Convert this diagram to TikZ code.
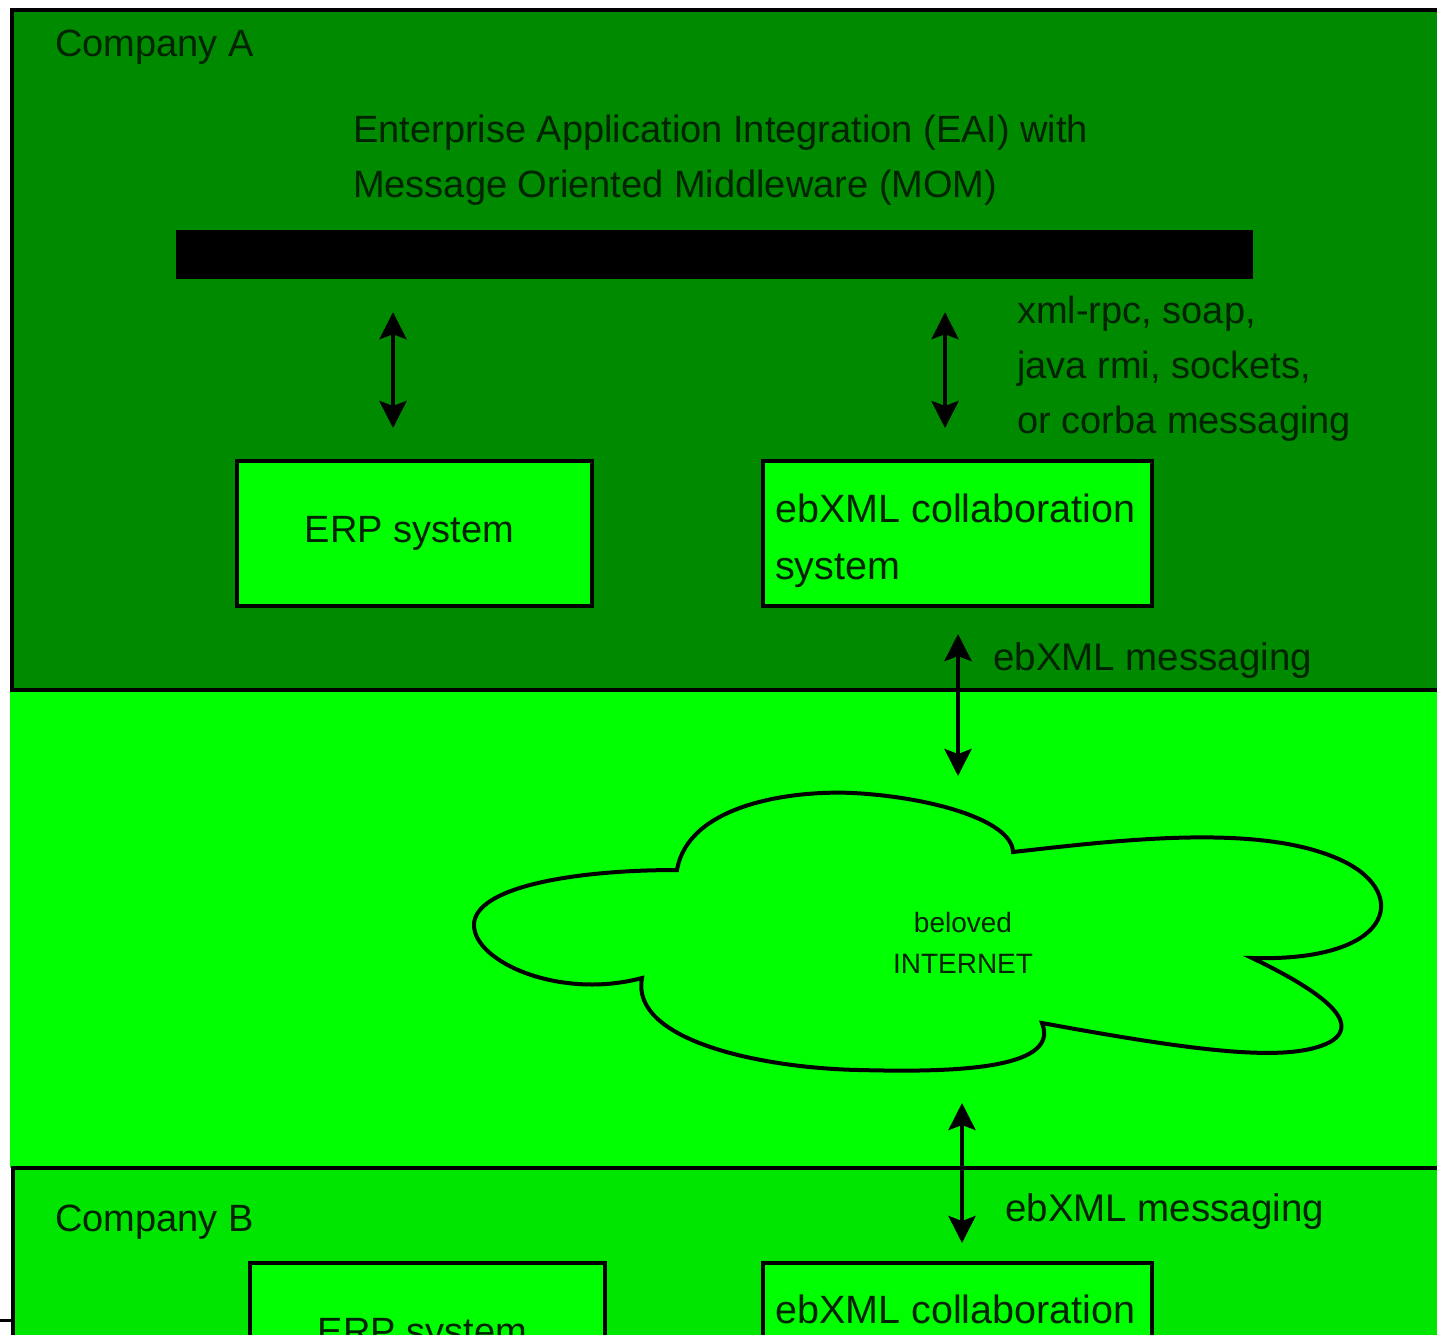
\documentclass[tikz,border=0pt]{standalone}
\usepackage{fontspec}
\setmainfont{Liberation Sans}
\usetikzlibrary{arrows.meta}
\definecolor{darkg}{RGB}{0,138,0}
\definecolor{lightg}{RGB}{0,255,0}
\definecolor{midg}{RGB}{0,230,0}
\definecolor{txt}{RGB}{0,35,0}
\tikzset{
  zone/.style={draw=black,line width=4pt},
  sysbox/.style={draw=black,line width=4pt,fill=lightg,minimum width=355pt,minimum height=145pt,inner sep=0pt,
    text=txt,font=\fontsize{38}{57}\selectfont},
  collabbox/.style={draw=black,line width=4pt,fill=lightg,minimum width=389pt,minimum height=145pt,inner sep=0pt},
  lbl/.style={anchor=base west,inner sep=0pt,text=txt,font=\fontsize{38}{55}\selectfont},
  collabtxt/.style={lbl,align=left,anchor=base west,font=\fontsize{39.5}{57}\selectfont},
  dblarrow/.style={line width=4pt,{Stealth[length=27pt,width=27pt,inset=5pt]}-{Stealth[length=27pt,width=27pt,inset=5pt]}}
}
\begin{document}
\begin{tikzpicture}[x=1pt,y=-1pt]
\useasboundingbox (0,0) rectangle (1437,1334);
\clip (0,0) rectangle (1437,1334);
% zones
\fill[lightg] (10,690) rectangle (1460,1168);
\filldraw[zone,fill=darkg] (12,10) rectangle (1460,690);
\filldraw[zone,fill=midg] (13,1168) rectangle (1460,1420);
\draw[line width=3pt] (0,1320) -- (13,1320);
% company A
\node[lbl] (compA) at (55,56) {Company A};
\node[lbl,align=left,anchor=north west] (eai) at (353,115) {Enterprise Application Integration (EAI) with\\Message Oriented Middleware (MOM)};
\node[fill=black,minimum width=1077pt,minimum height=49pt,inner sep=0pt] (bar) at (714.5,254.5) {};
\node[lbl,align=left,anchor=north west] (proto) at (1017,296) {xml-rpc, soap,\\java rmi, sockets,\\or corba messaging};
\node[sysbox] (erpA) at (414.5,533.5) {\hspace*{-10pt}ERP system};
\node[collabbox] (colA) at (957.5,533.5) {};
\node[collabtxt] (colAt) at (775,522) {ebXML collaboration};
\node[collabtxt] (colAt2) at (775,579) {system};
\draw[dblarrow,shorten <=33pt,shorten >=31pt] (bar.south -| 393,0) -- (erpA.north -| 393,0);
\draw[dblarrow,shorten <=33pt,shorten >=31pt] (bar.south -| 945,0) -- (colA.north -| 945,0);
\node[lbl,font=\fontsize{38.5}{55}\selectfont] (msgA) at (993,670) {ebXML messaging};
% cloud
\filldraw[line width=4pt,fill=lightg] (677,870)
  .. controls (688,805) and (790,790) .. (853,793)
  .. controls (930,797) and (1012,820) .. (1013,852)
  .. controls (1120,840) and (1265,822) .. (1345,862)
  .. controls (1410,895) and (1392,962) .. (1252,958)
  .. controls (1315,988) and (1365,1022) .. (1330,1042)
  .. controls (1290,1063) and (1200,1052) .. (1042,1023)
  .. controls (1062,1072) and (940,1072) .. (859,1070)
  .. controls (760,1068) and (630,1040) .. (642,978)
  .. controls (560,1000) and (474,962) .. (474,925)
  .. controls (474,888) and (570,870) .. (677,870) -- cycle;
\node[text=txt,font=\fontsize{28}{41}\selectfont,align=center,inner sep=0pt] (inet) at (963,943) {beloved\\INTERNET};
\coordinate (cloudtop) at (958,802);
\coordinate (cloudbot) at (962,1072);
\draw[dblarrow,shorten <=26pt,shorten >=26pt] (colA.south -| cloudtop) -- (cloudtop);
% company B
\node[lbl] (compB) at (55,1231) {Company B};
\node[sysbox] (erpB) at (427.5,1335.5) {\hspace*{-10pt}ERP system};
\node[collabbox] (colB) at (957.5,1335.5) {};
\node[collabtxt] (colBt) at (775,1323) {ebXML collaboration};
\draw[dblarrow,shorten <=31pt,shorten >=18pt] (cloudbot) -- (colB.north -| cloudbot);
\node[lbl,font=\fontsize{38.5}{55}\selectfont] (msgB) at (1005,1221) {ebXML messaging};
\end{tikzpicture}
\end{document}
